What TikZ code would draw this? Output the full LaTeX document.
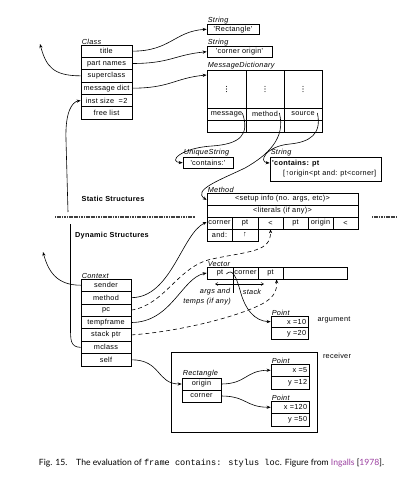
\documentclass[tikz,border=0pt]{standalone}
\usepackage{fontspec}
\usetikzlibrary{arrows.meta}
\newfontfamily\dfont[LetterSpace=4]{Liberation Sans}
\newfontfamily\capfont{Lato}
\newfontfamily\capmono{Liberation Mono}
\definecolor{citecol}{HTML}{9B3FA0}
\newcommand\dsz{\fontsize{7.3}{8}\selectfont}
\newcommand\mkcell[5]{\node[cell,minimum width={(#3-#1)*1pt},minimum height={(#4-#2)*1pt}] (#5) at ({(#1+#3)/2},{(#2+#4)/2})}
\newcommand\vdotsat[1]{\fill (#1) circle (0.55pt) ([yshift=2.6pt]#1) circle (0.55pt) ([yshift=-2.6pt]#1) circle (0.55pt);}
\tikzset{
  cell/.style={draw,line width=0.7pt,inner sep=0pt,font=\dfont\dsz,anchor=center},
  txt/.style={inner sep=0pt,font=\dfont\dsz},
  itxt/.style={inner sep=0pt,font=\dfont\itshape\dsz},
  lab/.style={inner sep=0.6pt,anchor=south west,font=\dfont\itshape\dsz},
  btxt/.style={inner sep=0pt,font=\dfont\bfseries\dsz},
  conn/.style={line width=0.6pt,-{Stealth[length=4pt,width=3.2pt]}},
  dconn/.style={conn,dash pattern=on 4pt off 3pt},
  plain/.style={line width=0.6pt},
  barb/.style={line width=0.5pt,-{Straight Barb[length=2.5pt,width=3pt]}},
  divider/.style={line width=1.8pt,black!75,dash pattern=on 1.2pt off 0.5pt},
}
\begin{document}
\begin{tikzpicture}[x=1pt,y=-1pt]
\useasboundingbox (0,0) rectangle (417,479);
% receiver frame
\mkcell{171}{352}{317}{432}{recv}{};
% Class
\node[lab] (lclass) at (81,45) {Class};
\mkcell{81}{45}{132}{57.33}{ctitle}{title};
\mkcell{81}{57.33}{132}{69.67}{cpart}{part names};
\mkcell{81}{69.67}{132}{82}{csuper}{superclass};
\mkcell{81}{82}{132}{94.33}{cmsg}{message dict};
\mkcell{81}{94.33}{132}{106.67}{cinst}{inst size\ \ =2};
\mkcell{81}{106.67}{132}{119}{cfree}{free list};
% Strings
\node[lab] (ls1) at (207,24.5) {String};
\mkcell{207}{24.5}{259}{34}{s1}{'Rectangle'};
\node[lab] (ls2) at (207,46.5) {String};
\mkcell{207}{46.5}{272}{57}{s2}{'corner origin'};
% MessageDictionary
\node[lab] (lmd) at (207,70) {MessageDictionary};
\mkcell{207}{70}{246}{108}{md1}{};
\mkcell{246}{70}{284}{108}{md2}{};
\mkcell{284}{70}{322}{108}{md3}{};
\vdotsat{md1.center}
\vdotsat{md2.center}
\vdotsat{md3.center}
\mkcell{207}{108}{246}{120}{mdmsg}{message};
\mkcell{246}{108}{284}{120}{mdmeth}{method};
\mkcell{284}{108}{322}{120}{mdsrc}{source};
\mkcell{207}{120}{246}{132}{mdb1}{};
\mkcell{246}{120}{284}{132}{mdb2}{};
\mkcell{284}{120}{322}{132}{mdb3}{};
% UniqueString
\node[lab] (lus) at (183,157) {UniqueString};
\mkcell{183}{157}{233}{168.5}{us}{'contains:'};
% String source
\node[lab] (ls3) at (270,157) {String};
\mkcell{270}{157}{381}{181}{s3}{};
\node[btxt,anchor=west] (s3a) at (272,163.5) {'contains: pt};
\node[txt,anchor=west] (s3b) at (283,173.5) {[↑origin<pt and: pt<corner]};
% Method
\node[lab] (lm) at (207,193) {Method};
\mkcell{207}{193}{358}{205}{m1}{<setup info (no. args, etc)>};
\mkcell{207}{205}{358}{217}{m2}{<literals (if any)>};
\mkcell{207}{217}{232}{229}{mc1}{corner};
\mkcell{232}{217}{258}{229}{mc2}{pt};
\mkcell{258}{217}{283}{229}{mc3}{<};
\mkcell{283}{217}{308}{229}{mc4}{pt};
\mkcell{308}{217}{333}{229}{mc5}{origin};
\mkcell{333}{217}{358}{229}{mc6}{<};
\mkcell{207}{229}{232}{241}{ma1}{and:};
\mkcell{232}{229}{258}{241}{ma2}{↑};
% divider and headings
\draw[divider] (55,217) -- (195,217);
\draw[divider] (372,217) -- (396,217);
\node[btxt] (static) at (113,199) {Static Structures};
\node[btxt] (dynamic) at (112,236) {Dynamic Structures};
% Vector
\node[lab] (lv) at (207,267) {Vector};
\mkcell{207}{267}{233}{279}{v1}{pt};
\mkcell{233}{267}{258}{279}{v2}{corner};
\mkcell{258}{267}{283}{279}{v3}{pt};
\mkcell{283}{267}{347}{279}{v4}{};
\draw[plain] (v1.south east) -- ++(0,14) coordinate (tickb);
\coordinate (tickm) at (233,284);
\coordinate (argl) at (215,284);
\coordinate (stkr) at (264,284);
\draw[barb] (tickm) -- (argl);
\draw[barb] (tickm) -- (stkr);
\node[itxt] (targs) at (215,292) {args and};
\node[itxt] (ttemps) at (207,301.5) {temps (if any)};
\node[itxt] (tstack) at (252,292) {stack};
% Context
\node[lab] (lctx) at (81,279) {Context};
\mkcell{81}{279}{131}{291.43}{xsender}{sender};
\mkcell{81}{291.43}{131}{303.86}{xmethod}{method};
\mkcell{81}{303.86}{131}{316.29}{xpc}{pc};
\mkcell{81}{316.29}{131}{328.71}{xtemp}{tempframe};
\mkcell{81}{328.71}{131}{341.14}{xstack}{stack ptr};
\mkcell{81}{341.14}{131}{353.57}{xmclass}{mclass};
\mkcell{81}{353.57}{131}{366}{xself}{self};
% Point argument
\node[lab] (lp1) at (271,316) {Point};
\mkcell{271}{316}{308}{327.5}{p1a}{};
\mkcell{271}{327.5}{308}{339}{p1b}{};
\node[txt,anchor=east] at ([xshift=-2pt]p1a.east) {x =10};
\node[txt,anchor=east] at ([xshift=-2pt]p1b.east) {y =20};
\node[txt] (targ) at (334,320) {argument};
\node[txt] (trecv) at (337,356) {receiver};
% Rectangle
\node[lab] (lr) at (182,378) {Rectangle};
\mkcell{182}{378}{221}{390}{r1}{origin};
\mkcell{182}{390}{221}{402}{r2}{corner};
\node[lab] (lp2) at (271,364) {Point};
\mkcell{271}{364}{309}{376.5}{p2a}{};
\mkcell{271}{376.5}{309}{389}{p2b}{};
\node[txt,anchor=east] at ([xshift=-2pt]p2a.east) {x =5};
\node[txt,anchor=east] at ([xshift=-2pt]p2b.east) {y =12};
\node[lab] (lp3) at (271,401) {Point};
\mkcell{271}{401}{309}{413.5}{p3a}{};
\mkcell{271}{413.5}{309}{426}{p3b}{};
\node[txt,anchor=east] at ([xshift=-2pt]p3a.east) {x =120};
\node[txt,anchor=east] at ([xshift=-2pt]p3b.east) {y =50};
% connectors
\coordinate (tipA) at (40,44);
\coordinate (tipB) at (43,252);
\coordinate (gapL) at (70.5,224);
\coordinate (gapU) at (68,212);
\draw[conn] (ctitle.east) .. controls +(38,0) and +(-32,2) .. (s1.west);
\draw[conn] (cpart.east) .. controls +(38,0) and +(-32,3) .. (s2.west);
\draw[conn] (cmsg.east) .. controls +(38,0) and +(-32,3) .. ([yshift=14pt]md1.west);
\draw[conn] (csuper.west) .. controls +(-28,0) and +(6,22) .. (tipA);
\draw[conn] ([xshift=-4pt,yshift=1pt]mdmsg.east) .. controls (250,135) and (240,144) .. (212,146) .. controls (180,148) and (168,162) .. (us.west);
\draw[conn] ([xshift=-5pt,yshift=1pt]mdmeth.east) .. controls (286,138) and (268,155) .. (245,168) .. controls (220,180) and (192,190) .. ([yshift=-1pt]m1.west);
\draw[conn] ([xshift=-5pt,yshift=1pt]mdsrc.east) .. controls (322,134) and (310,142) .. (290,144) .. controls (266,146) and (258,162) .. ([yshift=6pt]s3.west);
\draw[conn] (xmethod.east) .. controls +(40,0) and +(-25,12) .. ([yshift=1pt]mc1.west);
\draw[dconn] (xpc.east) .. controls (165,305) and (178,266) .. (212,259) .. controls (250,251) and (271,252) .. (mc3.south);
\draw[conn] (xtemp.east) .. controls +(40,0) and +(-25,5) .. (v1.west);
\draw[dconn] (xstack.east) .. controls (175,332) and (235,318) .. (262,304) .. controls (275,297) and (277,290) .. ([xshift=6pt]v3.south);
\draw[conn] ([xshift=-7pt,yshift=-1pt]v1.east) .. controls (232,268) and (236,276) .. (240,290) .. controls (245,310) and (255,321) .. (p1a.west);
\draw[conn] (xself.east) .. controls +(30,0) and +(-25,0) .. (r1.west);
\draw[conn] (r1.east) .. controls +(25,0) and +(-25,0) .. (p2a.west);
\draw[conn] (r2.east) .. controls +(25,0) and +(-25,0) .. (p3a.west);
\draw[conn] (xsender.west) .. controls +(-25,0) and +(5,18) .. (tipB);
\draw[plain] (xmclass.west) .. controls (70,347) and (70.5,340) .. (70.5,325) -- (gapL);
\draw[conn] (gapU) -- (66,140) .. controls (65,112) and (72,102) .. (cinst.west);
% caption
\node[inner sep=0pt] (cap) at (211.5,463) {\capfont\fontsize{8.6}{10}\selectfont Fig. 15.\hspace{6pt} The evaluation of {\capmono frame contains: stylus loc}. Figure from \textcolor{citecol}{Ingalls} [\textcolor{citecol}{1978}].};
\end{tikzpicture}
\end{document}
